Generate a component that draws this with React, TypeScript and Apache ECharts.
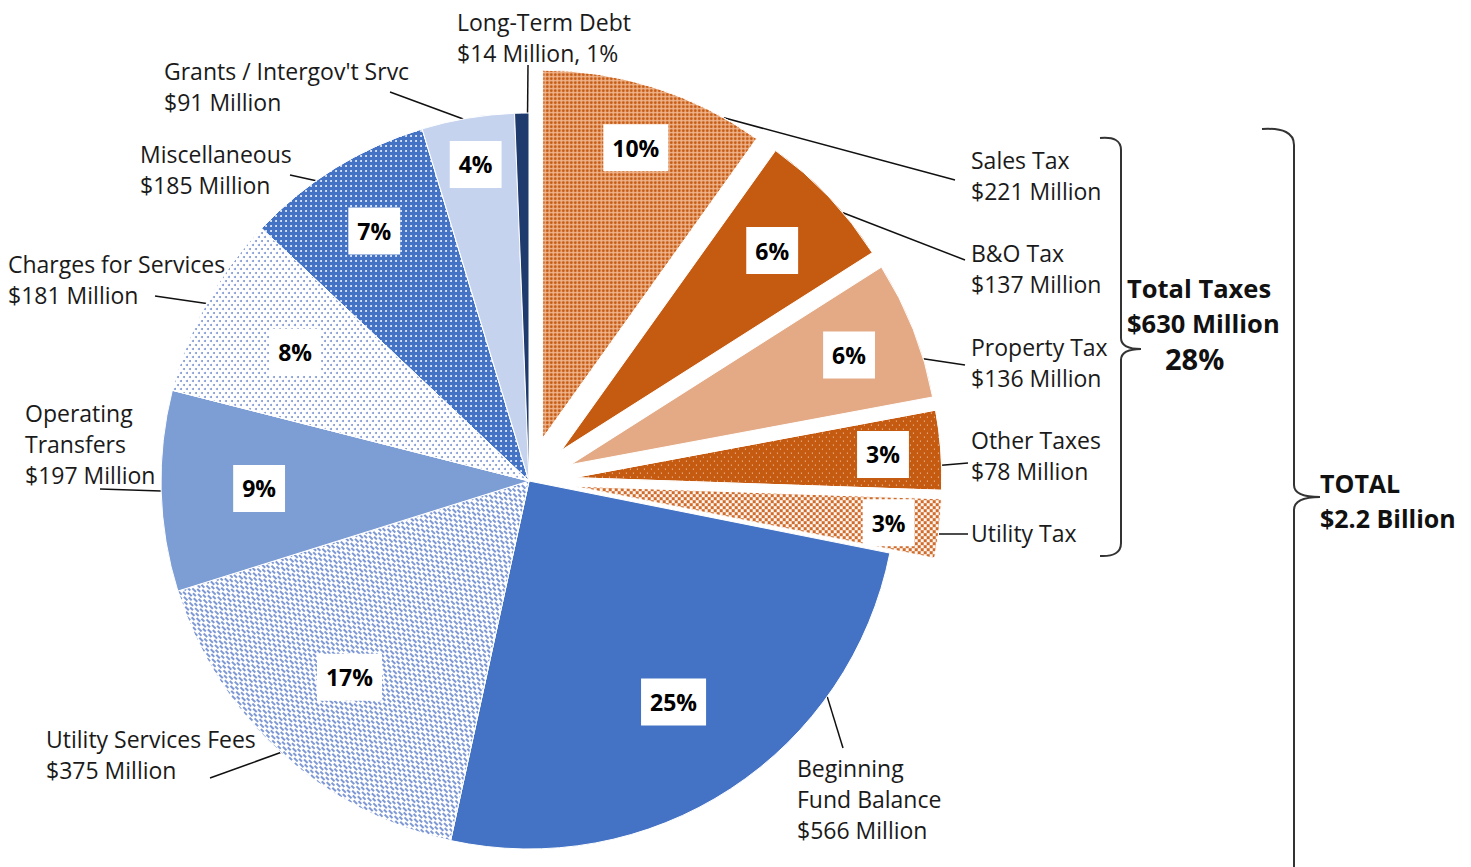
import React, { useEffect, useRef } from 'react';
import * as echarts from 'echarts';

// ---------- data ----------
const categories = [
  'Sales Tax', 'B&O Tax', 'Property Tax', 'Other Taxes', 'Utility Tax',
  'Beginning Fund Balance', 'Utility Services Fees', 'Operating Transfers',
  'Charges for Services', 'Miscellaneous', "Grants / Intergov't Srvc", 'Long-Term Debt',
];
const values = [221, 137, 136, 78, 58, 566, 375, 197, 181, 185, 91, 14];
const isTax = [true, true, true, true, true, false, false, false, false, false, false, false];
const pctLabels = ['10%', '6%', '6%', '3%', '3%', '25%', '17%', '9%', '8%', '7%', '4%', ''];
const outerLabels = [
  'Sales Tax\n$221 Million',
  'B&O Tax\n$137 Million',
  'Property Tax\n$136 Million',
  'Other Taxes\n$78 Million',
  'Utility Tax',
  'Beginning\nFund Balance\n$566 Million',
  'Utility Services Fees\n$375 Million',
  'Operating\nTransfers\n$197 Million',
  'Charges for Services\n$181 Million',
  'Miscellaneous\n$185 Million',
  "Grants / Intergov't Srvc\n$91 Million",
  'Long-Term Debt\n$14 Million, 1%',
];
const taxTitle = ['Total Taxes', '$630 Million', '28%'];
const totalTitle = ['TOTAL', '$2.2 Billion'];

// ---------- layout / style ----------
const CX = 529;
const CY = 481;
const R = 368;
const EXPLODE = 45;
const FONT = '"Open Sans", "Noto Sans", sans-serif';
const FONT_SIZE = 23;
const LINE_H = 31;
const PAD = 10;

// text top-left x, first line centre y
const labelAnchors: number[][] = [
  [971, 160], [971, 253], [971, 347], [971, 440], [971, 533],
  [797, 768], [46, 739], [25, 413], [8, 264], [140, 154], [164, 71], [457, 22],
];
// where along each slice's arc the leader line starts (0 = start edge, 1 = end edge)
const leaderFrac = [0.83, 0.65, 0.72, 0.69, 0.59, 0.27, 0.5, 0.5, 0.5, 0.38, 0.45, 0.9];
// leader line end, next to the label
const leaderEnds: number[][] = [
  [955, 180], [965, 260], [965, 365], [968, 463], [968, 534],
  [843, 748], [210, 778], [100, 489], [155, 296], [290, 175], [390, 92], [528, 65],
];
// radial distance of the percentage boxes from the (exploded) slice apex
const pctRadius = [302, 287, 296, 307, 314, 261, 263, 267, 264, 291, 318, 0];

const sliceStyles: any[] = [
  { color: '#efb58e', decal: { symbol: 'circle', symbolSize: 1, color: '#c55a11', dashArrayX: [[3, 1]], dashArrayY: [3, 1] } },
  { color: '#c55a11' },
  { color: '#e4aa86' },
  { color: '#c55a11', decal: { symbol: 'rect', symbolSize: 1, color: '#f7dcc7', dashArrayX: [[1, 6], [0, 4, 1, 2]], dashArrayY: [1, 3] } },
  { color: '#fdf6f1', decal: { symbol: 'rect', symbolSize: 1, color: '#cf6b2b', dashArrayX: [[3, 3], [0, 3, 3, 0]], dashArrayY: [3, 0] } },
  { color: '#4472c4' },
  { color: '#ffffff', decal: { symbol: 'rect', symbolSize: 1, color: '#7d98d4', dashArrayX: [[5, 3], [0, 4, 4, 0]], dashArrayY: [2, 1], rotation: Math.PI / 4 } },
  { color: '#7d9dd5' },
  { color: '#ffffff', decal: { symbol: 'circle', symbolSize: 1, color: '#7f98d3', dashArrayX: [[2, 4], [0, 3, 2, 1]], dashArrayY: [2, 2] } },
  { color: '#4472c4', decal: { symbol: 'circle', symbolSize: 0.9, color: '#ffffff', dashArrayX: [[2, 3]], dashArrayY: [2, 3] } },
  { color: '#c5d3ee' },
  { color: '#1f3b6e' },
];

const BRACE1 =
  'M1100,138 Q1121,136 1121,150 L1121,338 Q1121,349 1141,349 Q1121,349 1121,360 L1121,543 Q1121,557 1100,556';
const BRACE2 =
  'M1262,129 Q1294,127 1294,145 L1294,485 Q1294,497 1320,497 Q1294,497 1294,510 L1294,880';

let registered = false;
function registerShapes() {
  if (registered) return;
  registered = true;
  echarts.graphic.registerShape('brace1', echarts.graphic.extendPath(BRACE1, {}) as any);
  echarts.graphic.registerShape('brace2', echarts.graphic.extendPath(BRACE2, {}) as any);
}

const TRANSPARENT = 'rgba(0,0,0,0)';

// slice geometry derived from the values
const total = values.reduce((a, b) => a + b, 0);
const before = values.map((_, i) => values.slice(0, i).reduce((a, b) => a + b, 0));
const angleOf = (v: number) => (v / total) * Math.PI * 2; // clockwise from 12 o'clock
const midAngle = values.map((v, i) => angleOf(before[i] + v / 2));
const sliceCenter = values.map((_, i) =>
  isTax[i]
    ? [CX + EXPLODE * Math.sin(midAngle[i]), CY - EXPLODE * Math.cos(midAngle[i])]
    : [CX, CY]
);

const outerLabelStyle = {
  show: true,
  position: 'outside',
  formatter: (p: any) => outerLabels[p.dataIndex],
  fontFamily: FONT,
  fontSize: FONT_SIZE,
  lineHeight: LINE_H,
  color: '#1a1a1a',
  padding: [4, PAD, 4, PAD],
  align: 'left',
};
const outerLabelLine = {
  show: true,
  length: 10,
  length2: 0,
  lineStyle: { color: '#111111', width: 1.5 },
};
const outerLabelLayout = (params: any) => {
  const i = params.dataIndex;
  const a = labelAnchors[i];
  const th = angleOf(before[i] + leaderFrac[i] * values[i]);
  const c = sliceCenter[i];
  const start = [c[0] + R * Math.sin(th), c[1] - R * Math.cos(th)];
  const end = leaderEnds[i];
  return {
    x: a[0] - PAD,
    y: a[1] - LINE_H / 2 - 4,
    align: 'left',
    verticalAlign: 'top',
    labelLinePoints: [start, end, end],
  };
};

export default function App() {
  const ref = useRef<HTMLDivElement>(null);

  useEffect(() => {
    document.body.style.margin = '0';
    registerShapes();
    const chart = echarts.init(ref.current!, null, { renderer: 'svg' });

    const pieBase = {
      type: 'pie',
      radius: [0, R],
      startAngle: 90,
      clockwise: true,
      avoidLabelOverlap: false,
      emphasis: { disabled: true },
    };

    // Visible slices (tax slices exploded via selection) + labels of the other slices
    const mainSeries = {
      ...pieBase,
      center: [CX, CY],
      selectedMode: 'multiple',
      selectedOffset: EXPLODE,
      select: { itemStyle: { borderColor: '#ffffff', borderWidth: 1 } },
      data: categories.map((name, i) => ({
        name,
        value: values[i],
        selected: isTax[i],
        itemStyle: { ...sliceStyles[i], borderColor: '#ffffff', borderWidth: 1 },
        label: { show: !isTax[i] },
        labelLine: { show: !isTax[i] },
      })),
      label: outerLabelStyle,
      labelLine: outerLabelLine,
      labelLayout: outerLabelLayout,
    };

    // Outer labels of the exploded tax slices: an invisible pie per slice,
    // centred at that slice's exploded position
    const taxLabelSeries = categories
      .map((_, i) => i)
      .filter((i) => isTax[i])
      .map((i) => ({
        ...pieBase,
        silent: true,
        center: sliceCenter[i],
        itemStyle: { color: TRANSPARENT, borderWidth: 0 },
        data: categories.map((name, j) => ({
          name,
          value: values[j],
          label: { show: j === i },
          labelLine: { show: j === i },
        })),
        label: outerLabelStyle,
        labelLine: outerLabelLine,
        labelLayout: outerLabelLayout,
      }));

    // Percentage boxes
    const pctSeries = {
      ...pieBase,
      center: [CX, CY],
      silent: true,
      itemStyle: { color: TRANSPARENT, borderWidth: 0 },
      labelLine: { show: false },
      label: {
        show: true,
        position: 'inside',
        formatter: (p: any) => pctLabels[p.dataIndex],
        backgroundColor: '#ffffff',
        padding: [11, 9, 9, 9],
        color: '#000000',
        fontFamily: FONT,
        fontWeight: 'bold',
        fontSize: 23,
        lineHeight: 27,
      },
      labelLayout: (params: any) => {
        const i = params.dataIndex;
        const shift = pctRadius[i] + (isTax[i] ? EXPLODE : 0) - R / 2;
        return { dx: shift * Math.sin(midAngle[i]), dy: -shift * Math.cos(midAngle[i]) };
      },
      data: categories.map((name, i) => ({
        name,
        value: values[i],
        label: { show: pctLabels[i] !== '' },
      })),
    };

    const titleX = [1127, 1127, 1165];
    const option: any = {
      animation: false,
      backgroundColor: '#ffffff',
      series: [mainSeries, ...taxLabelSeries, pctSeries],
      graphic: [
        { type: 'brace1', x: 0, y: 0, style: { fill: 'none', stroke: '#333333', lineWidth: 2 } },
        { type: 'brace2', x: 0, y: 0, style: { fill: 'none', stroke: '#333333', lineWidth: 2 } },
        ...taxTitle.map((t, i) => ({
          type: 'text',
          x: titleX[i],
          y: 288 + i * 35,
          style: {
            text: t,
            fill: '#111111',
            font: `bold ${i === 2 ? 29 : 25.5}px ${FONT}`,
            textAlign: 'left',
            textVerticalAlign: 'middle',
            align: 'left',
            verticalAlign: 'middle',
          },
        })),
        ...totalTitle.map((t, i) => ({
          type: 'text',
          x: 1320,
          y: 483 + i * 35,
          style: {
            text: t,
            fill: '#111111',
            font: `bold 25px ${FONT}`,
            textAlign: 'left',
            textVerticalAlign: 'middle',
            align: 'left',
            verticalAlign: 'middle',
          },
        })),
      ],
    };

    chart.setOption(option);
    return () => chart.dispose();
  }, []);

  return (
    <div
      ref={ref}
      style={{ position: 'absolute', left: 0, top: 0, width: 1471, height: 867 }}
    />
  );
}
